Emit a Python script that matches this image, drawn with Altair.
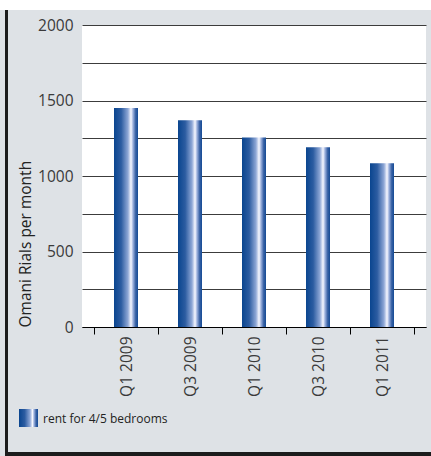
import altair as alt
import pandas as pd

# Quarterly rents, Omani Rials per month
quarters = ["Q1 2009", "Q3 2009", "Q1 2010", "Q3 2010", "Q1 2011"]
rents = [1450, 1370, 1255, 1190, 1085]
series_label = ["rent for 4/5 bedrooms"]
y_ticks = [0, 250, 500, 750, 1000, 1250, 1500, 1750, 2000]

W, H = 344, 302
FONT = "Open Sans"
PANEL = "#dee2e6"
EDGE = "#1c1c1c"

df = pd.DataFrame({"quarter": quarters, "rent": rents})

bar_fill = alt.Gradient(
    gradient="linear",
    x1=0, x2=1, y1=0, y2=0,
    stops=[
        alt.GradientStop(offset=0.0, color="#0a458f"),
        alt.GradientStop(offset=0.3, color="#2c5ca1"),
        alt.GradientStop(offset=0.58, color="#8ea7d6"),
        alt.GradientStop(offset=0.71, color="#f7f8ff"),
        alt.GradientStop(offset=0.79, color="#9fb3de"),
        alt.GradientStop(offset=0.9, color="#3a63a6"),
        alt.GradientStop(offset=1.0, color="#144a94"),
    ],
)

bars = alt.Chart(df).mark_bar(fill=bar_fill, size=24).encode(
    x=alt.X(
        "quarter:N",
        sort=quarters,
        title=None,
        scale=alt.Scale(paddingInner=0, paddingOuter=0.1875),
        axis=alt.Axis(
            labelAngle=270,
            tickBand="extent",
            tickSize=7,
            tickColor="black",
            domainColor="black",
            labelPadding=2,
            labelFont=FONT,
            labelFontSize=15.5,
            labelColor="#3a3a3a",
            grid=False,
        ),
    ),
    y=alt.Y(
        "rent:Q",
        scale=alt.Scale(domain=[0, 2000], nice=False),
        title="Omani Rials per month",
        axis=alt.Axis(
            values=y_ticks,
            labelExpr="datum.value % 500 === 0 ? datum.label : ''",
            format="d",
            domain=False,
            ticks=False,
            grid=True,
            gridColor="#3c3c3c",
            gridWidth=1,
            labelPadding=9,
            labelFont=FONT,
            labelFontSize=15.5,
            labelColor="#3a3a3a",
            titleFont=FONT,
            titleFontSize=15.5,
            titleFontWeight="normal",
            titleColor="#222222",
            titleAnchor="start",
            titlePadding=4,
        ),
    ),
)

# Legend: swatch + label below the axis labels
legend_df = pd.DataFrame({"label": series_label})
legend_swatch = alt.Chart(legend_df).mark_rect(fill=bar_fill).encode(
    x=alt.value(-63), x2=alt.value(-44), y=alt.value(384), y2=alt.value(402)
)
legend_text = alt.Chart(legend_df).mark_text(
    align="left", baseline="middle", font=FONT, fontSize=12, color="#222222"
).encode(x=alt.value(-39), y=alt.value(393.5), text="label:N")

# Panel frame: white strip on top, dark rules on left and bottom
frame = pd.DataFrame({"k": [0]})
top_strip = alt.Chart(frame).mark_rect(fill="white").encode(
    x=alt.value(-82), x2=alt.value(W + 5), y=alt.value(-25), y2=alt.value(-15)
)
left_rule = alt.Chart(frame).mark_rect(fill=EDGE).encode(
    x=alt.value(-77), x2=alt.value(-74), y=alt.value(-15), y2=alt.value(H + 129)
)
bottom_rule = alt.Chart(frame).mark_rect(fill=EDGE).encode(
    x=alt.value(-77), x2=alt.value(W + 5), y=alt.value(H + 125), y2=alt.value(H + 129)
)

chart = (
    alt.layer(bars, legend_swatch, legend_text, top_strip, left_rule, bottom_rule)
    .properties(
        width=W,
        height=H,
        padding={"left": 82, "top": 25, "right": 5, "bottom": 129},
        autosize=alt.AutoSizeParams(type="none"),
        background=PANEL,
    )
    .configure_view(fill="white", stroke=None)
)

chart.save("out.html", embed_options={"renderer": "svg", "actions": False})
